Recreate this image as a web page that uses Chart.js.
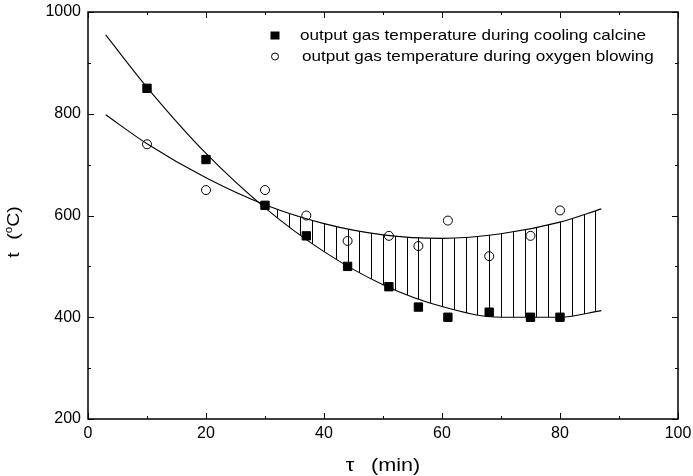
<!DOCTYPE html>
<html><head><meta charset="utf-8">
<script src="https://cdn.jsdelivr.net/npm/chart.js@4/dist/chart.umd.min.js"></script>
<style>html,body{margin:0;padding:0;background:#fff}</style>
</head><body>
<canvas id="c" width="693" height="476"></canvas>
<script>
// ---- data ----
const seriesNames = ['output gas temperature during cooling calcine', 'output gas temperature during oxygen blowing'];
const timeMin     = [10, 20, 30, 37, 44, 51, 56, 61, 68, 75, 80];
const coolingTemp = [850, 710, 620, 560, 500, 460, 420, 400, 410, 400, 400];
const oxygenTemp  = [740, 650, 650, 600, 550, 560, 540, 590, 520, 560, 610];
// fitted curves
const fitTime    = [3, 10, 20, 30, 40, 50, 60, 70, 80, 87];
const coolingFit = [955, 852, 722, 615, 529, 464, 421, 400, 400, 413];
const oxygenFit  = [798, 741, 674, 621, 584, 562, 555, 564, 587, 613];
const xTicks = [0, 20, 40, 60, 80, 100];
const yTicks = [200, 400, 600, 800, 1000];
const xMinorStep = 10, yMinorStep = 100, hatchStep = 2;
const xTitleMain = 'τ', xTitleUnit = '(min)';
const yTitleMain = 't', yTitleUnitA = '(', yTitleSup = 'o', yTitleUnitB = 'C)';

const FONT = "'Liberation Sans', Arial, Helvetica, sans-serif";
const pts = (xs, ys) => xs.map((x, i) => ({x: x, y: ys[i]}));

const decor = {
  id: 'decor',
  afterDatasetsDraw(chart) {
    const ctx = chart.ctx, xs = chart.scales.x, ys = chart.scales.y;
    const {left, right, top, bottom} = chart.chartArea;
    ctx.save();
    ctx.strokeStyle = '#000';
    ctx.lineWidth = 1.5;
    ctx.strokeRect(left, top, right - left, bottom - top);
    ctx.lineWidth = 1;
    ctx.beginPath();
    for (let v = xs.min; v <= xs.max + 1e-9; v += xMinorStep) {
      const major = xTicks.includes(v);
      const len = major ? 6 : 3;
      const px = Math.round(xs.getPixelForValue(v)) + 0.5;
      ctx.moveTo(px, bottom); ctx.lineTo(px, bottom - len);
      ctx.moveTo(px, top); ctx.lineTo(px, top + len);
    }
    for (let v = ys.min; v <= ys.max + 1e-9; v += yMinorStep) {
      const major = yTicks.includes(v);
      const len = major ? 6 : 3;
      const py = Math.round(ys.getPixelForValue(v)) + 0.5;
      ctx.moveTo(left, py); ctx.lineTo(left + len, py);
      ctx.moveTo(right, py); ctx.lineTo(right - len, py);
    }
    ctx.stroke();
    ctx.restore();
  },
  afterDraw(chart) {
    const ctx = chart.ctx;
    const {left, right, top, bottom} = chart.chartArea;
    ctx.save();
    ctx.fillStyle = '#000';
    ctx.strokeStyle = '#000';
    // legend
    const mx = left + 187, tx = left + 212;
    const rows = [{y: top + 23.5, base: top + 28}, {y: top + 44.5, base: top + 48.5}];
    ctx.fillRect(mx - 4.5, rows[0].y - 4, 9, 8);
    ctx.lineWidth = 1;
    ctx.beginPath(); ctx.arc(mx, rows[1].y, 3.5, 0, Math.PI * 2); ctx.stroke();
    ctx.font = '15px ' + FONT;
    ctx.textBaseline = 'alphabetic';
    ctx.textAlign = 'left';
    for (let i = 0; i < 2; i++) {
      ctx.save();
      ctx.translate(tx + (i === 1 ? 2 : 0), rows[i].base);
      ctx.scale(1.14, 1);
      ctx.fillText(chart.data.datasets[i + 2].label, 0, 0);
      ctx.restore();
    }
    // x title
    ctx.save();
    ctx.font = '18px ' + FONT;
    const cx = (left + right) / 2;
    ctx.translate(cx, 471);
    ctx.scale(1.2, 1);
    const wT = ctx.measureText(xTitleMain).width, wU = ctx.measureText(xTitleUnit).width;
    const gap = 14;
    const tot = wT + gap + wU;
    ctx.fillText(xTitleMain, -tot / 2, 0);
    ctx.fillText(xTitleUnit, -tot / 2 + wT + gap, 0);
    ctx.restore();
    // y title
    ctx.save();
    ctx.translate(19, 232);
    ctx.rotate(-Math.PI / 2);
    ctx.scale(1.15, 1);
    ctx.font = '17px ' + FONT;
    const w1 = ctx.measureText(yTitleMain).width;
    const w2 = ctx.measureText(yTitleUnitA).width;
    const w4 = ctx.measureText(yTitleUnitB).width;
    ctx.font = '10px ' + FONT;
    const w3 = ctx.measureText(yTitleSup).width;
    const g2 = 11;
    const T = w1 + g2 + w2 + w3 + w4;
    let u = -T / 2;
    ctx.font = '17px ' + FONT;
    ctx.fillText(yTitleMain, u, 0); u += w1 + g2;
    ctx.fillText(yTitleUnitA, u, 0); u += w2;
    ctx.font = '10px ' + FONT;
    ctx.fillText(yTitleSup, u, -7); u += w3;
    ctx.font = '17px ' + FONT;
    ctx.fillText(yTitleUnitB, u, 0);
    ctx.restore();
    ctx.restore();
  }
};

const noEdgePad = s => { s.paddingTop = 0; s.paddingBottom = 0; s.paddingLeft = 0; s.paddingRight = 0; };

const chart = new Chart(document.getElementById('c').getContext('2d'), {
  type: 'line',
  data: {
    datasets: [
      {label: 'cooling fit', data: pts(fitTime, coolingFit), borderColor: '#000', borderWidth: 1.1,
       pointRadius: 0, cubicInterpolationMode: 'monotone', fill: false},
      {label: 'oxygen fit', data: pts(fitTime, oxygenFit), borderColor: '#000', borderWidth: 1.1,
       pointRadius: 0, cubicInterpolationMode: 'monotone',
       fill: {target: 0, above: 'rgba(0,0,0,0)', below: 'rgba(0,0,0,0)'}},
      {label: seriesNames[0], data: pts(timeMin, coolingTemp), showLine: false, pointStyle: 'rect',
       pointRadius: 5.9, backgroundColor: '#000', borderColor: '#000', borderWidth: 1},
      {label: seriesNames[1], data: pts(timeMin, oxygenTemp), showLine: false, pointStyle: 'circle',
       pointRadius: 4.5, backgroundColor: 'rgba(0,0,0,0)', borderColor: '#000', borderWidth: 1}
    ]
  },
  options: {
    responsive: false, animation: false, devicePixelRatio: 1,
    layout: {padding: {top: 12, right: 15, left: 0, bottom: 0}},
    plugins: {legend: {display: false}, tooltip: {enabled: false}},
    scales: {
      x: {
        type: 'linear', min: 0, max: 100,
        afterBuildTicks: s => { s.ticks = xTicks.map(v => ({value: v})); },
        afterFit: s => { s.height = 57; noEdgePad(s); },
        grid: {display: false, drawTicks: false},
        border: {display: false},
        ticks: {font: {family: FONT, size: 16}, color: '#000', padding: 5, maxRotation: 0, autoSkip: false,
                callback: v => String(v)}
      },
      y: {
        type: 'linear', min: 200, max: 1000,
        afterBuildTicks: s => { s.ticks = yTicks.map(v => ({value: v})); },
        afterFit: s => { s.width = 88; noEdgePad(s); },
        grid: {display: false, drawTicks: false},
        border: {display: false},
        ticks: {font: {family: FONT, size: 16}, color: '#000', padding: 7, autoSkip: false,
                callback: v => String(v)}
      }
    }
  },
  plugins: [decor]
});

// vertical hatching between the two fitted curves, one line every hatchStep on x
(function () {
  const xs = chart.scales.x;
  const pc = document.createElement('canvas');
  pc.width = chart.width; pc.height = 1;
  const g = pc.getContext('2d');
  g.fillStyle = '#000';
  for (let v = xs.min; v <= xs.max + 1e-9; v += hatchStep) {
    g.fillRect(Math.round(xs.getPixelForValue(v)), 0, 1, 1);
  }
  const pattern = chart.ctx.createPattern(pc, 'repeat');
  chart.data.datasets[1].fill = {target: 0, above: pattern, below: 'rgba(0,0,0,0)'};
  chart.update('none');
})();
</script>
</body></html>
